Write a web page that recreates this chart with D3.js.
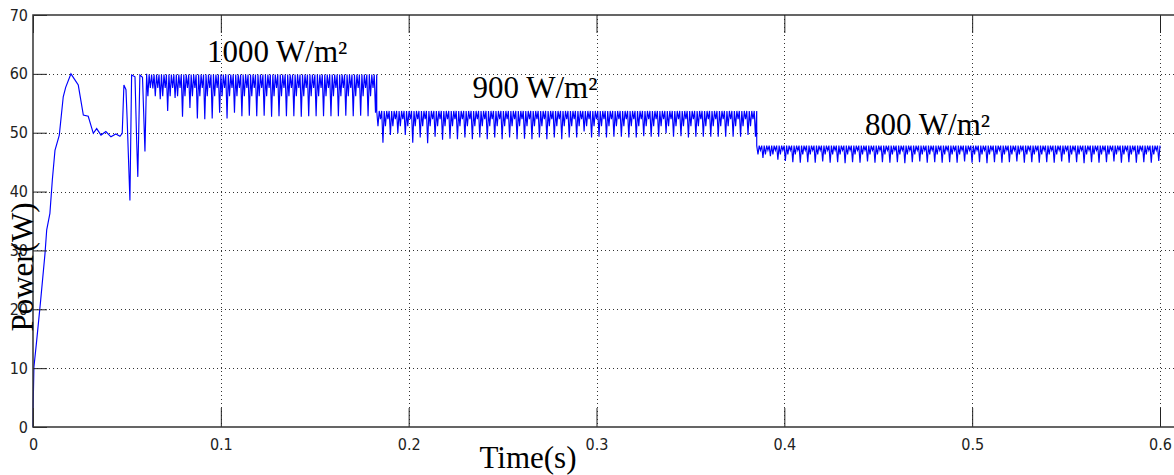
<!DOCTYPE html>
<html>
<head>
<meta charset="utf-8">
<script src="https://cdn.jsdelivr.net/npm/d3@7"></script>
<style>
  html, body { margin: 0; padding: 0; background: #fff; }
  svg { display: block; }
  .tick text { font-family: "Liberation Sans Narrow", "DejaVu Sans Condensed", "Liberation Sans", sans-serif; font-size: 16px; fill: #222; }
  .big { font-family: "Liberation Serif", "Times New Roman", serif; font-size: 31px; fill: #000; }
</style>
</head>
<body>
<svg id="chart" width="1174" height="475"></svg>
<script>
// startup transient (time s, power W)
const startT = [0, 0.0001, 0.0005, 0.002, 0.0041, 0.0064, 0.0073, 0.009, 0.0103, 0.0117, 0.014, 0.0161, 0.0174, 0.0202,
  0.0241, 0.0268, 0.0294, 0.0321, 0.0339, 0.0362, 0.0388, 0.0415, 0.0441, 0.0463, 0.0475, 0.0484, 0.0495, 0.0501,
  0.0516, 0.0525, 0.0543, 0.0552, 0.0558, 0.0569, 0.0583, 0.0596, 0.0605];
const startP = [0, 4, 10.2, 14.8, 21.6, 29.5, 33.5, 36.3, 42, 47, 49.6, 56.1, 57.7, 60,
  58.1, 53, 52.8, 49.9, 50.7, 49.6, 50.2, 49.3, 49.8, 49.4, 49.9, 58.1, 57.3, 52.5,
  38.5, 59.8, 59.5, 48.5, 42.5, 59.8, 59.4, 46.8, 60];

// steady MPPT oscillation after each irradiance step
const sectionStart = [0.0605, 0.1830, 0.3853];
const sectionEnd = [0.1830, 0.3853, 0.6];
const sectionTop = [59.9, 53.7, 47.8];
const sectionWiggle = [[56.2, 57.6], [51.1, 52.3], [46.3, 47.0]];

// bottom of each deep dip, one per perturbation cycle
const dips1000 = [57.5, 55.7, 53.7, 55.9, 52.7, 54.2, 52.4, 52.3, 52.4, 53.4, 52.4, 53.4, 52.8, 52.9, 52.8, 52.9,
  52.7, 52.8, 52.8, 52.8, 52.7, 52.8, 52.8, 52.8, 52.8, 52.8, 52.9, 52.8, 52.9, 52.8, 53.4];
const dips900 = [48.3, 49.6, 49.9, 49.6, 48.3, 49.2, 48.2, 49.3, 48.8, 49.0, 48.9, 49.2, 48.9, 49.2, 48.9, 49.2,
  48.9, 49.2, 48.9, 49.0, 48.9, 49.2, 48.9, 49.2, 48.9, 49.2, 49.2, 50.2, 49.2, 49.3, 49.2, 49.3, 49.3, 49.2,
  49.2, 49.4, 49.3, 49.3, 49.9, 49.3, 49.4, 49.2, 49.3, 49.3, 49.3, 49.3, 49.3, 49.3, 49.3, 49.6, 49.3];
const dips800 = [45.7, 46.0, 45.4, 45.2, 45.0, 44.9, 45.0, 44.9, 45.1, 44.9, 45.0, 44.8, 45.0, 44.9, 45.1, 44.9,
  45.0, 44.9, 45.0, 44.8, 45.0, 45.1, 44.9, 45.0, 44.9, 45.0, 44.9, 45.1, 44.9, 45.0, 44.8, 45.0, 44.9, 45.0,
  45.1, 44.9, 45.0, 44.9, 45.0, 44.9, 45.1, 44.9, 45.0, 44.8, 45.0, 44.9, 45.0, 45.1, 44.9, 45.0, 44.9, 45.0,
  44.9, 45.2];

const sectionLabels = ["1000 W/m²", "900 W/m²", "800 W/m²"];
const xTicks = [0, 0.1, 0.2, 0.3, 0.4, 0.5, 0.6];
const xTickLabels = ["0", "0.1", "0.2", "0.3", "0.4", "0.5", "0.6"];
const yTicks = [0, 10, 20, 30, 40, 50, 60, 70];

const svg = d3.select('#chart');
const plotLeft = 33, plotRight = 1160, plotTop = 15, plotBottom = 427;

const x = d3.scaleLinear().domain([0, 0.6]).range([plotLeft, plotRight]);
const y = d3.scaleLinear().domain([0, 70]).range([plotBottom, plotTop]);

// build the trace
const points = startT.map((t, i) => [t, startP[i]]);
[dips1000, dips900, dips800].forEach((dips, i) => {
    const t0 = sectionStart[i];
    const step = (sectionEnd[i] - t0) / dips.length;
    const phase = [0, 1 / 6, 2 / 6, 3 / 6, 4 / 6, 5 / 6];
    dips.forEach((d, k) => {
        const vals = [sectionTop[i], sectionWiggle[i][0], sectionTop[i], sectionWiggle[i][1], sectionTop[i], d];
        vals.forEach((v, j) => points.push([t0 + (k + phase[j]) * step, v]));
    });
    points.push([sectionEnd[i], sectionTop[i]]);
});

// grid
const grid = svg.append('g').attr('stroke', '#333').attr('stroke-width', 1).attr('stroke-dasharray', '1,3');
grid.selectAll('.hg')
    .data(yTicks.filter(d => d > 0 && d < 70))
    .enter()
    .append('line')
    .attr('x1', plotLeft).attr('x2', 1174)
    .attr('y1', d => Math.round(y(d)) + 0.5).attr('y2', d => Math.round(y(d)) + 0.5);
grid.selectAll('.vg')
    .data(xTicks.filter(d => d > 0))
    .enter()
    .append('line')
    .attr('x1', d => Math.round(x(d)) + 0.5).attr('x2', d => Math.round(x(d)) + 0.5)
    .attr('y1', plotTop).attr('y2', plotBottom);

// trace
svg.append('path')
    .datum(points)
    .attr('fill', 'none')
    .attr('stroke', '#0000ff')
    .attr('stroke-width', 1.15)
    .attr('d', d3.line().x(d => x(d[0])).y(d => y(d[1])));

// axes, MATLAB style ticks pointing inward
const fmtX = d => xTickLabels[xTicks.indexOf(d)];
svg.append('g')
    .attr('transform', `translate(0, ${plotBottom})`)
    .call(d3.axisBottom(x).tickValues(xTicks).tickFormat(fmtX).tickSizeInner(-19).tickSizeOuter(0).tickPadding(12))
    .call(g => g.select('.domain').remove());
svg.append('g')
    .attr('transform', `translate(0, ${plotTop})`)
    .call(d3.axisTop(x).tickValues(xTicks).tickFormat('').tickSizeInner(-18).tickSizeOuter(0))
    .call(g => g.select('.domain').remove());
svg.append('g')
    .attr('transform', `translate(${plotLeft}, 0)`)
    .call(d3.axisLeft(y).tickValues(yTicks).tickSizeInner(-14).tickSizeOuter(0).tickPadding(5))
    .call(g => g.select('.domain').remove());
svg.selectAll('.tick line').attr('stroke', '#222');

// frame
svg.append('path')
    .attr('d', `M1180,${plotTop}H${plotLeft}V${plotBottom}H1180`)
    .attr('fill', 'none')
    .attr('stroke', '#333')
    .attr('stroke-width', 1.5);

// labels
svg.append('text')
    .attr('class', 'big')
    .attr('text-anchor', 'middle')
    .attr('x', 528).attr('y', 468)
    .text('Time(s)');
svg.append('text')
    .attr('class', 'big')
    .attr('text-anchor', 'middle')
    .attr('transform', 'translate(33, 267) rotate(-90)')
    .text('Power(W)');

const labelAt = [[0.0926, 62.0], [0.234, 55.9], [0.443, 49.6]];
svg.selectAll('.irr')
    .data(sectionLabels)
    .enter()
    .append('text')
    .attr('class', 'big')
    .attr('x', (d, i) => x(labelAt[i][0]))
    .attr('y', (d, i) => y(labelAt[i][1]))
    .text(d => d);
</script>
</body>
</html>
